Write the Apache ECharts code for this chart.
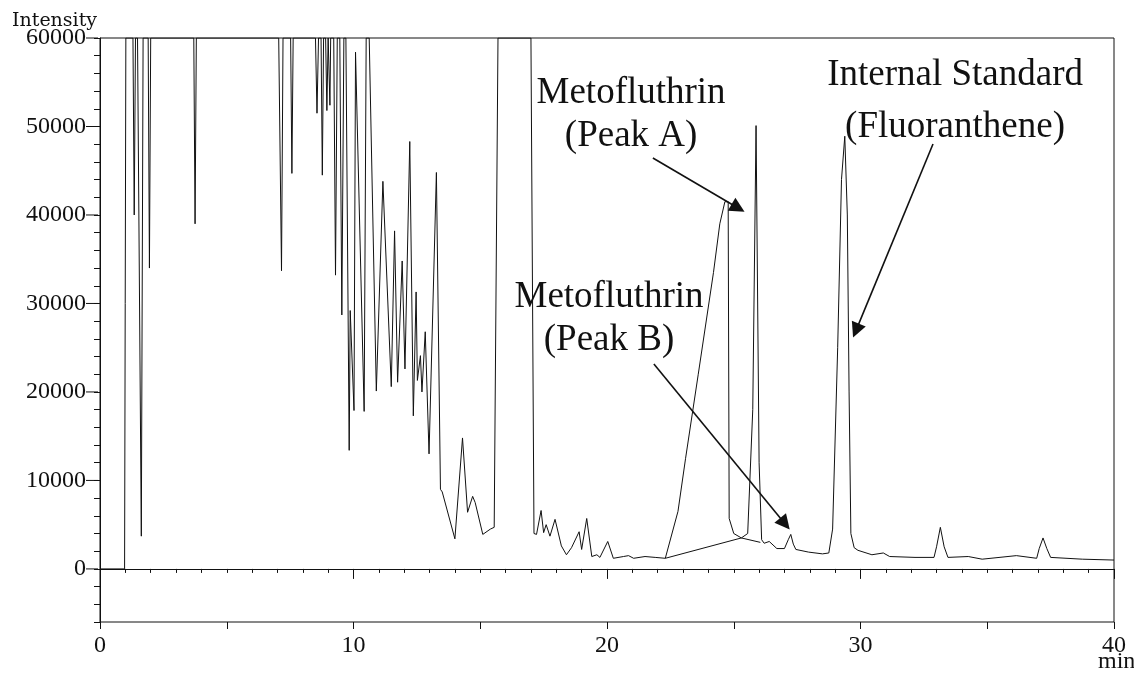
<!DOCTYPE html>
<html>
<head>
<meta charset="utf-8">
<script src="https://cdn.jsdelivr.net/npm/echarts@6/dist/echarts.min.js"></script>
<style>
html,body{margin:0;padding:0;background:#fff;}
#chart{width:1134px;height:679px;}
</style>
</head>
<body>
<div id="chart"></div>
<script>
// Chromatogram trace: retention time (min) and intensity
const timeMin = [
  0, 0.97, 1.02, 1.30, 1.35, 1.40, 1.48, 1.63, 1.70, 1.90, 1.95, 2.00,
  3.70, 3.75, 3.80, 7.05, 7.16, 7.22, 7.52, 7.57, 7.62,
  8.50, 8.56, 8.62, 8.72, 8.77, 8.82, 8.90, 8.95, 9.00, 9.04, 9.07, 9.10,
  9.22, 9.29, 9.36, 9.46, 9.54, 9.62, 9.70, 9.83, 9.87, 10.02, 10.08, 10.42,
  10.50, 10.62, 10.90, 11.16, 11.49, 11.62, 11.74, 11.92, 12.03, 12.22, 12.36,
  12.47, 12.52, 12.64, 12.70, 12.83, 12.98, 13.27, 13.43, 13.50, 13.55,
  14.0, 14.3, 14.5, 14.7, 14.8, 15.1, 15.4, 15.55, 15.7, 17.0, 17.12,
  17.22, 17.40, 17.50, 17.60, 17.75, 17.95, 18.2, 18.4, 18.6, 18.9, 19.0,
  19.2, 19.4, 19.6, 19.72, 20.03, 20.25, 20.65, 20.85, 21.05, 21.5, 21.9,
  22.3, 22.8, 23.1, 23.6, 24.2, 24.45, 24.65, 24.78, 24.82, 25.0, 25.3,
  25.55, 25.75, 25.88, 26.0, 26.1, 26.2, 26.4, 26.7, 27.0, 27.05, 27.15,
  27.25, 27.35, 27.45, 27.95, 28.5, 28.75, 28.9, 29.1, 29.25, 29.38, 29.48,
  29.55, 29.62, 29.75, 29.9, 30.45, 30.9, 31.15, 32.15, 32.9, 33.0, 33.15,
  33.3, 33.45, 34.25, 34.8, 36.15, 36.95, 37.05, 37.2, 37.35, 37.5, 38.75, 40
];
const intensity = [
  0, 0, 60000, 60000, 40000, 60000, 60000, 3700, 60000, 60000, 34000, 60000,
  60000, 39000, 60000, 60000, 33700, 60000, 60000, 44700, 60000,
  60000, 51500, 60000, 60000, 44500, 60000, 60000, 51800, 60000, 60000, 52400, 60000,
  60000, 33200, 60000, 60000, 28700, 60000, 60000, 13400, 29200, 17900, 58400, 17800,
  60000, 60000, 20100, 43800, 20600, 38200, 21100, 34800, 22600, 48300, 17300,
  31300, 21300, 24100, 20000, 26800, 13000, 44800, 9000, 8700, 8500,
  3400, 14800, 6400, 8200, 7500, 3900, 4500, 4700, 60000, 60000, 4000,
  3900, 6600, 4100, 5000, 3700, 5600, 2600, 1600, 2400, 4200, 2200,
  5700, 1400, 1600, 1300, 3100, 1200, 1400, 1500, 1200, 1400, 1300,
  1200, 6500, 12500, 22000, 33500, 39000, 41500, 41500, 5700, 4000, 3500,
  4000, 18000, 50100, 12000, 3300, 2900, 3100, 2300, 2300, 2400, 3300,
  3900, 2800, 2200, 1900, 1700, 1800, 4500, 25000, 44000, 48900, 40000,
  20000, 4000, 2400, 2100, 1600, 1800, 1400, 1300, 1300, 2500, 4700,
  2500, 1300, 1400, 1100, 1500, 1200, 2300, 3500, 2300, 1300, 1100, 1000
];
// Drawn integration baseline under the Metofluthrin peaks
const baseTime = [22.3, 25.3, 26.05];
const baseIntensity = [1200, 3500, 3000];

// Annotations
const annoText = ['Metofluthrin\n(Peak A)', 'Metofluthrin\n(Peak B)', 'Internal Standard\n(Fluoranthene)'];
const annoAt = [[20.95, 51300], [20.08, 28300], [33.73, 52830]];
const annoLineHeight = [43, 43, 52];
const arrowFrom = [[21.81, 46440], [21.85, 23160], [32.86, 48020]];
const arrowTo = [[25.17, 40790], [27.02, 5100], [29.82, 26930]];

const serif = '"Liberation Serif", "Times New Roman", serif';
const ink = '#111';

const chart = echarts.init(document.getElementById('chart'), null, {renderer: 'canvas'});
const trace = timeMin.map((t, i) => [t, intensity[i]]);
const base = baseTime.map((t, i) => [t, baseIntensity[i]]);

chart.setOption({
  animation: false,
  backgroundColor: '#fff',
  grid: {left: 100, right: 20, top: 38, bottom: 57, show: true, borderColor: ink, borderWidth: 1},
  graphic: [
    {type: 'text', left: 12, top: 12, silent: true,
     style: {text: 'Intensity', fontFamily: '"DejaVu Serif", serif', fontSize: 19, fill: ink}},
    {type: 'text', left: 1098, top: 650, silent: true,
     style: {text: 'min', fontFamily: serif, fontSize: 24, fill: ink}}
  ],
  xAxis: [{
    type: 'value', min: 0, max: 40, interval: 10, position: 'bottom',
    axisLine: {show: true, lineStyle: {color: ink, width: 1}},
    axisTick: {show: true, length: 10, lineStyle: {color: ink}},
    minorTick: {show: true, splitNumber: 10, length: 4, lineStyle: {color: ink}},
    axisLabel: {fontFamily: serif, fontSize: 24, color: ink, margin: 12},
    splitLine: {show: false}, minorSplitLine: {show: false}
  }, {
    type: 'value', min: 0, max: 40, interval: 5, position: 'bottom', gridIndex: 0,
    axisLine: {show: false},
    axisTick: {show: true, length: 7, lineStyle: {color: ink}},
    axisLabel: {show: false}, splitLine: {show: false}
  }],
  yAxis: {
    type: 'value', min: -6000, max: 60000, interval: 2000,
    axisLine: {show: true, lineStyle: {color: ink, width: 1}},
    axisTick: {show: true, length: 6, lineStyle: {color: ink}},
    axisLabel: {
      margin: 2,
      formatter: v => (v % 10000 === 0 ? '{n|' + v + '}{t|}' : ''),
      rich: {
        n: {fontFamily: serif, fontSize: 24, color: ink},
        t: {width: 12, height: 1, backgroundColor: ink}
      }
    },
    splitLine: {show: false}
  },
  series: [{
    type: 'line', name: 'trace', data: trace, xAxisIndex: 0,
    symbol: 'none', silent: true,
    lineStyle: {color: ink, width: 1},
    markPoint: {
      silent: true, symbol: 'circle', symbolSize: 0,
      data: annoText.map((txt, i) => ({
        coord: annoAt[i],
        label: {show: true, position: 'inside', formatter: txt, fontFamily: serif,
                fontSize: 37, color: ink, lineHeight: annoLineHeight[i], align: 'center'}
      }))
    },
    markLine: {
      silent: true, symbol: ['none', 'triangle'], symbolSize: 15,
      label: {show: false},
      itemStyle: {color: ink},
      lineStyle: {color: ink, width: 1.6, type: 'solid'},
      data: arrowFrom.map((p, i) => [{coord: p}, {coord: arrowTo[i]}])
    }
  }, {
    type: 'line', name: 'baseline', data: base, xAxisIndex: 0,
    symbol: 'none', silent: true,
    lineStyle: {color: ink, width: 1}
  }]
});
</script>
</body>
</html>
